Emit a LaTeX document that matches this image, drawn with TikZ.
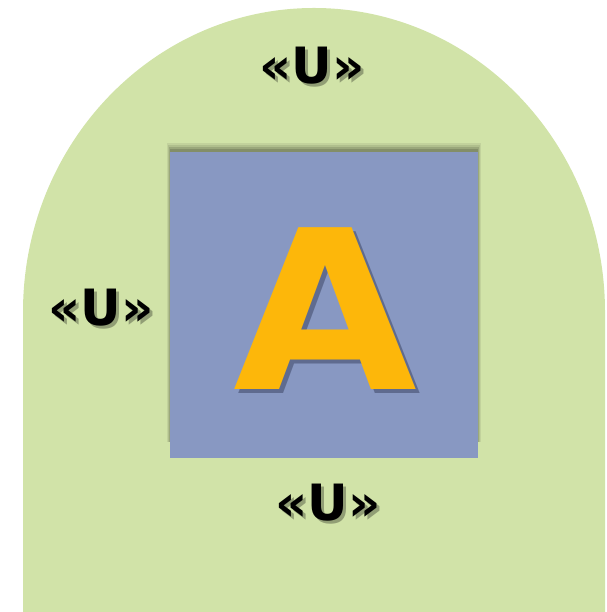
\documentclass[tikz,border=0pt]{standalone}
\usepackage{fontspec}
\setmainfont{DejaVu Sans}
\definecolor{greenbg}{HTML}{D1E3A8}
\definecolor{bluebox}{HTML}{8898C2}
\definecolor{orangeA}{HTML}{FDB70A}
\definecolor{shadowA}{HTML}{3E4766}
\tikzset{
  ulabel/.style={font=\bfseries\fontsize{50}{50}\selectfont, text=black, inner sep=0pt},
  ushadow/.style={font=\bfseries\fontsize{50}{50}\selectfont, text=black, inner sep=0pt, opacity=0.3},
  bigA/.style={font=\bfseries\fontsize{222}{222}\selectfont, inner sep=0pt, xscale=1.07}
}
\begin{document}
\begin{tikzpicture}[x=1pt,y=1pt]
\useasboundingbox (0,0) rectangle (606,612);
% green arch
\fill[greenbg] (23,0) -- (23,300) arc[start angle=180, end angle=0, x radius=291, y radius=304] -- (605,0) -- cycle;
% box shadow (soft, shifted upward)
\foreach \d/\o in {6/0.07,4/0.09,2/0.12,0/0.15}{
  \fill[black, opacity=\o] (170-\d/2,170) rectangle (478+\d/2,460+3+\d);
}
\node[fill=bluebox, minimum width=308, minimum height=306, inner sep=0pt, anchor=south west] (box) at (170,154) {};
% letter A with shadow
\node[bigA, text=shadowA, opacity=0.55] at (329,299) {A};
\node[bigA, text=orangeA] (A) at (325,303) {A};
% labels with shadow
\node[ushadow] at (315,543) {«U»};
\node[ushadow] at (104,301) {«U»};
\node[ushadow] at (331,106) {«U»};
\node[ulabel] (utop) at (312,546) {«U»};
\node[ulabel] (uleft) at (101,304) {«U»};
\node[ulabel] (ubot) at (328,109) {«U»};
\end{tikzpicture}
\end{document}
